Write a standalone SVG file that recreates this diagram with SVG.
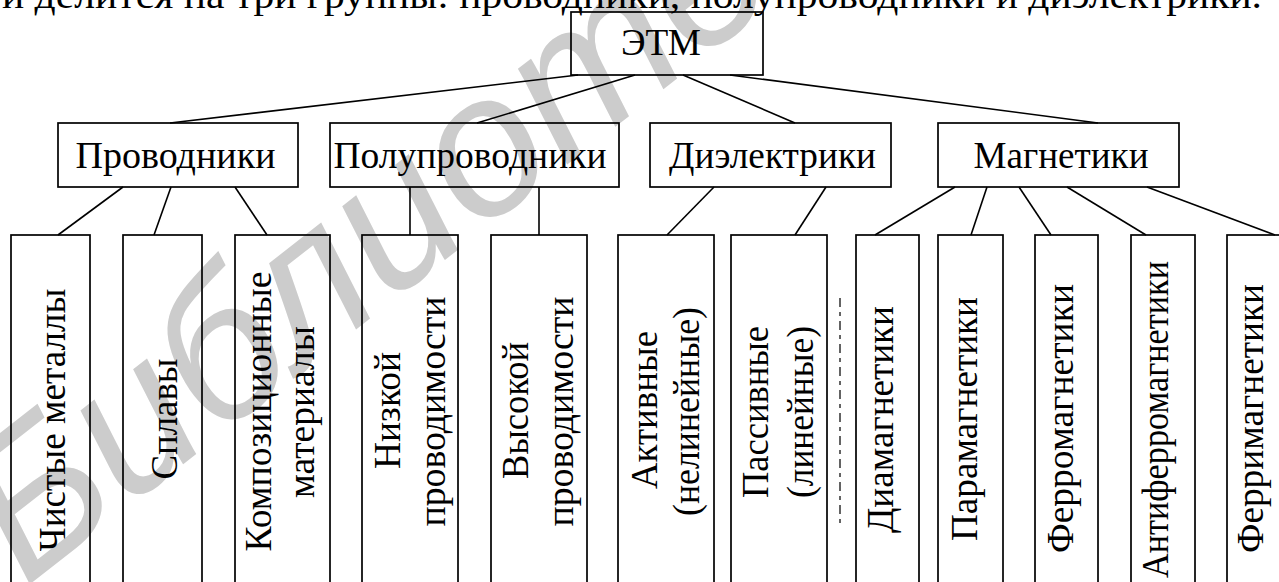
<svg xmlns="http://www.w3.org/2000/svg" width="1279" height="582" viewBox="0 0 1279 582">
<style>
.box{fill:none;stroke:#000;stroke-width:1.7}
.ln{stroke:#000;stroke-width:1.6;fill:none}
.t{font-family:Liberation Serif,serif;font-size:37px;fill:#000}
.m{text-anchor:middle}
.wm{font-family:Liberation Sans,sans-serif;font-style:italic;font-size:200px;fill:#cccccc}
</style>
<rect x="0" y="0" width="1279" height="582" fill="#fff"/>
<g id="watermark"><text class="wm" transform="translate(25,588) rotate(-38)">Библиотека</text></g>
<text class="t" x="2" y="8" font-size="40" textLength="1260" lengthAdjust="spacingAndGlyphs">и делится на три группы: проводники, полупроводники и диэлектрики.</text>
<g id="connectors">
<line class="ln" x1="578" y1="75" x2="170" y2="123"/>
<line class="ln" x1="635" y1="75" x2="477" y2="123"/>
<line class="ln" x1="683" y1="75" x2="795" y2="123"/>
<line class="ln" x1="730" y1="75" x2="1098" y2="123"/>
<line class="ln" x1="123" y1="187" x2="58" y2="235"/>
<line class="ln" x1="171" y1="187" x2="154" y2="235"/>
<line class="ln" x1="235" y1="187" x2="267" y2="235"/>
<line class="ln" x1="410" y1="187" x2="410" y2="235"/>
<line class="ln" x1="539" y1="187" x2="539" y2="235"/>
<line class="ln" x1="714" y1="187" x2="667" y2="235"/>
<line class="ln" x1="826" y1="187" x2="795" y2="235"/>
<line class="ln" x1="955" y1="187" x2="875" y2="235"/>
<line class="ln" x1="987" y1="187" x2="971" y2="235"/>
<line class="ln" x1="1019" y1="187" x2="1051" y2="235"/>
<line class="ln" x1="1067" y1="187" x2="1146" y2="235"/>
<line class="ln" x1="1147" y1="187" x2="1275" y2="235"/>
</g>
<g id="etm"><rect class="box" x="571" y="12" width="192" height="63"/><text class="t m" x="661" y="55" textLength="80" lengthAdjust="spacingAndGlyphs">ЭТМ</text></g>
<g id="provodniki"><rect class="box" x="58" y="123" width="240" height="64"/><text class="t m" x="175.5" y="168" textLength="200" lengthAdjust="spacingAndGlyphs">Проводники</text></g>
<g id="poluprovodniki"><rect class="box" x="330" y="123" width="289" height="64"/><text class="t m" x="470" y="168" textLength="273" lengthAdjust="spacingAndGlyphs">Полупроводники</text></g>
<g id="dielektriki"><rect class="box" x="650" y="123" width="241" height="64"/><text class="t m" x="772.5" y="168" textLength="207" lengthAdjust="spacingAndGlyphs">Диэлектрики</text></g>
<g id="magnetiki"><rect class="box" x="938" y="123" width="241" height="64"/><text class="t m" x="1061" y="168" textLength="175" lengthAdjust="spacingAndGlyphs">Магнетики</text></g>
<g id="chistye"><rect class="box" x="11" y="235" width="79" height="370"/><text class="t m" transform="translate(65,420) rotate(-90)" textLength="263" lengthAdjust="spacingAndGlyphs">Чистые металлы</text></g>
<g id="splavy"><rect class="box" x="123" y="235" width="79" height="370"/><text class="t m" transform="translate(177,419) rotate(-90)" textLength="121" lengthAdjust="spacingAndGlyphs">Сплавы</text></g>
<g id="kompozit"><rect class="box" x="235" y="235" width="95" height="370"/><text class="t m" transform="translate(271,411.5) rotate(-90)" textLength="280" lengthAdjust="spacingAndGlyphs">Композиционные</text><text class="t m" transform="translate(314,412) rotate(-90)" textLength="172" lengthAdjust="spacingAndGlyphs">материалы</text></g>
<g id="nizkoy"><rect class="box" x="362" y="235" width="96" height="370"/><text class="t m" transform="translate(400,410.5) rotate(-90)" textLength="117" lengthAdjust="spacingAndGlyphs">Низкой</text><text class="t m" transform="translate(445,411.5) rotate(-90)" textLength="230" lengthAdjust="spacingAndGlyphs">проводимости</text></g>
<g id="vysokoy"><rect class="box" x="491" y="235" width="96" height="370"/><text class="t m" transform="translate(528,410.5) rotate(-90)" textLength="137" lengthAdjust="spacingAndGlyphs">Высокой</text><text class="t m" transform="translate(573,411.5) rotate(-90)" textLength="230" lengthAdjust="spacingAndGlyphs">проводимости</text></g>
<g id="aktivnye"><rect class="box" x="618" y="235" width="96" height="370"/><text class="t m" transform="translate(657,410) rotate(-90)" textLength="158" lengthAdjust="spacingAndGlyphs">Активные</text><text class="t m" transform="translate(699,411.5) rotate(-90)" textLength="209" lengthAdjust="spacingAndGlyphs">(нелинейные)</text></g>
<g id="passivnye"><rect class="box" x="731" y="235" width="96" height="370"/><text class="t m" transform="translate(768,412) rotate(-90)" textLength="172" lengthAdjust="spacingAndGlyphs">Пассивные</text><text class="t m" transform="translate(813,412) rotate(-90)" textLength="172" lengthAdjust="spacingAndGlyphs">(линейные)</text></g>
<line x1="840" y1="298" x2="840" y2="525" stroke="#222" stroke-width="1.4" stroke-dasharray="9 5 4 5 9 5 4 5"/>
<g id="diamagnetiki"><rect class="box" x="856" y="235" width="63" height="370"/><text class="t m" transform="translate(893,419.5) rotate(-90)" textLength="227" lengthAdjust="spacingAndGlyphs">Диамагнетики</text></g>
<g id="paramagnetiki"><rect class="box" x="938" y="235" width="65" height="370"/><text class="t m" transform="translate(977,419) rotate(-90)" textLength="244" lengthAdjust="spacingAndGlyphs">Парамагнетики</text></g>
<g id="ferromagnetiki"><rect class="box" x="1035" y="235" width="63" height="370"/><text class="t m" transform="translate(1073,418.5) rotate(-90)" textLength="269" lengthAdjust="spacingAndGlyphs">Ферромагнетики</text></g>
<g id="antiferro"><rect class="box" x="1131" y="235" width="64" height="370"/><text class="t m" transform="translate(1168,419.5) rotate(-90)" textLength="317" lengthAdjust="spacingAndGlyphs">Антиферромагнетики</text></g>
<g id="ferrimagnetiki"><rect class="box" x="1227" y="235" width="70" height="370"/><text class="t m" transform="translate(1263,418.5) rotate(-90)" textLength="269" lengthAdjust="spacingAndGlyphs">Ферримагнетики</text></g>
</svg>
